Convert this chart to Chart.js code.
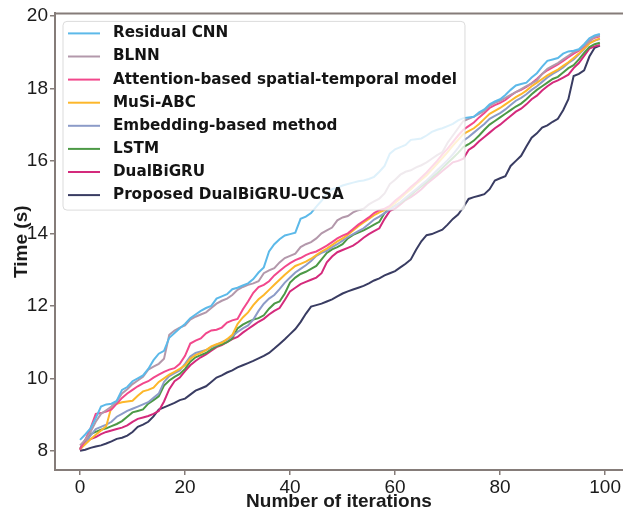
<!DOCTYPE html>
<html>
<head>
<meta charset="utf-8">
<script src="https://cdn.jsdelivr.net/npm/chart.js@4.4.0/dist/chart.umd.min.js"></script>
<style>
    html, body { margin: 0; padding: 0; background: #fff; overflow: hidden; }
    canvas { display: block; }
</style>
</head>
<body>
<canvas id="graficoTempo" width="623" height="514"></canvas>
<script>
// iteration index on the x axis
const iteracoes = Array.from({ length: 100 }, (_, i) => i);
const xTicks = [0, 20, 40, 60, 80, 100];
const yTicks = [8, 10, 12, 14, 16, 18, 20];

const nomes = [
    "Residual CNN",
    "BLNN",
    "Attention-based spatial-temporal model",
    "MuSi-ABC",
    "Embedding-based method",
    "LSTM",
    "DualBiGRU",
    "Proposed DualBiGRU-UCSA"
];

const residualCnn = [
    8.30, 8.45, 8.62, 8.90, 9.22, 9.28, 9.30, 9.38, 9.68, 9.76,
    9.92, 10.00, 10.08, 10.26, 10.50, 10.68, 10.76, 11.12, 11.25, 11.38,
    11.50, 11.66, 11.76, 11.86, 11.94, 12.00, 12.20, 12.26, 12.32, 12.46,
    12.50, 12.56, 12.62, 12.74, 12.92, 13.06, 13.50, 13.70, 13.84, 13.94,
    13.98, 14.02, 14.40, 14.46, 14.56, 14.74, 14.90, 15.10, 15.22, 15.26,
    15.32, 15.36, 15.40, 15.44, 15.46, 15.50, 15.56, 15.70, 15.86, 16.20,
    16.32, 16.38, 16.44, 16.58, 16.60, 16.62, 16.70, 16.80, 16.86, 16.90,
    16.96, 17.02, 17.12, 17.18, 17.20, 17.22, 17.34, 17.42, 17.56, 17.64,
    17.70, 17.82, 17.96, 18.08, 18.12, 18.16, 18.30, 18.42, 18.60, 18.76,
    18.80, 18.84, 18.96, 19.02, 19.04, 19.08, 19.22, 19.38, 19.46, 19.50
];

const blnn = [
    8.15, 8.30, 8.52, 8.80, 9.02, 9.12, 9.22, 9.36, 9.58, 9.70,
    9.84, 9.94, 10.04, 10.24, 10.32, 10.40, 10.54, 11.20, 11.32, 11.40,
    11.46, 11.62, 11.70, 11.76, 11.82, 11.94, 12.06, 12.14, 12.20, 12.30,
    12.44, 12.52, 12.58, 12.62, 12.68, 12.90, 12.98, 13.04, 13.20, 13.32,
    13.38, 13.44, 13.62, 13.70, 13.76, 13.86, 14.00, 14.08, 14.16, 14.36,
    14.44, 14.48, 14.58, 14.64, 14.68, 14.80, 14.88, 14.96, 15.10, 15.36,
    15.48, 15.62, 15.70, 15.74, 15.82, 15.88, 15.96, 16.06, 16.16, 16.24,
    16.50, 16.70, 16.90, 17.10, 17.16, 17.22, 17.30, 17.38, 17.52, 17.60,
    17.66, 17.74, 17.82, 17.90, 17.98, 18.06, 18.14, 18.22, 18.40, 18.54,
    18.62, 18.70, 18.80, 18.90, 19.00, 19.06, 19.18, 19.30, 19.42, 19.46
];

const atencao = [
    8.05, 8.30, 8.62, 9.02, 9.04, 9.08, 9.14, 9.30, 9.46, 9.58,
    9.68, 9.78, 9.86, 9.92, 10.02, 10.10, 10.18, 10.24, 10.28, 10.40,
    10.62, 10.96, 11.04, 11.10, 11.24, 11.32, 11.34, 11.40, 11.54, 11.60,
    11.64, 11.90, 12.12, 12.36, 12.52, 12.58, 12.68, 12.84, 12.96, 13.08,
    13.18, 13.26, 13.32, 13.40, 13.46, 13.50, 13.58, 13.66, 13.76, 13.86,
    13.94, 14.00, 14.12, 14.24, 14.34, 14.44, 14.56, 14.64, 14.68, 14.76,
    14.90, 15.02, 15.14, 15.28, 15.40, 15.54, 15.68, 15.84, 16.00, 16.18,
    16.34, 16.52, 16.70, 16.86, 16.96, 17.06, 17.20, 17.32, 17.46, 17.54,
    17.60, 17.68, 17.80, 17.90, 17.96, 18.04, 18.14, 18.26, 18.40, 18.50,
    18.58, 18.66, 18.76, 18.86, 18.96, 19.04, 19.16, 19.32, 19.40, 19.44
];

const musiAbc = [
    8.05, 8.18, 8.32, 8.44, 8.56, 8.68, 9.22, 9.30, 9.34, 9.36,
    9.38, 9.52, 9.64, 9.68, 9.74, 9.90, 10.00, 10.10, 10.18, 10.26,
    10.36, 10.54, 10.64, 10.70, 10.78, 10.88, 10.94, 10.98, 11.08, 11.20,
    11.50, 11.68, 11.82, 12.02, 12.18, 12.30, 12.44, 12.58, 12.72, 12.86,
    12.98, 13.10, 13.16, 13.22, 13.30, 13.40, 13.50, 13.58, 13.68, 13.78,
    13.86, 13.96, 14.08, 14.20, 14.30, 14.40, 14.50, 14.58, 14.64, 14.72,
    14.84, 14.96, 15.10, 15.22, 15.36, 15.48, 15.60, 15.76, 15.92, 16.08,
    16.24, 16.42, 16.58, 16.74, 16.82, 16.90, 17.02, 17.16, 17.30, 17.38,
    17.46, 17.56, 17.66, 17.76, 17.84, 17.94, 18.06, 18.16, 18.26, 18.36,
    18.44, 18.52, 18.62, 18.72, 18.84, 18.96, 19.10, 19.24, 19.32, 19.38
];

const embedding = [
    8.05, 8.20, 8.42, 8.60, 8.66, 8.72, 8.80, 8.94, 9.02, 9.10,
    9.16, 9.22, 9.28, 9.34, 9.46, 9.58, 9.90, 10.06, 10.14, 10.22,
    10.40, 10.60, 10.70, 10.74, 10.78, 10.86, 10.92, 11.00, 11.06, 11.16,
    11.28, 11.38, 11.46, 11.62, 11.86, 12.06, 12.20, 12.30, 12.46, 12.64,
    12.78, 12.92, 13.02, 13.12, 13.24, 13.38, 13.46, 13.52, 13.62, 13.70,
    13.80, 13.90, 13.98, 14.06, 14.14, 14.26, 14.38, 14.46, 14.56, 14.66,
    14.76, 14.86, 14.98, 15.10, 15.22, 15.34, 15.46, 15.60, 15.74, 15.88,
    16.02, 16.18, 16.36, 16.56, 16.66, 16.78, 16.90, 17.02, 17.16, 17.24,
    17.32, 17.42, 17.54, 17.66, 17.74, 17.84, 17.96, 18.06, 18.18, 18.30,
    18.40, 18.48, 18.58, 18.70, 18.80, 18.94, 19.08, 19.26, 19.32, 19.36
];

const lstm = [
    8.05, 8.30, 8.46, 8.52, 8.58, 8.62, 8.68, 8.74, 8.82, 8.94,
    9.06, 9.10, 9.14, 9.30, 9.40, 9.50, 9.80, 9.94, 10.04, 10.12,
    10.26, 10.46, 10.58, 10.64, 10.70, 10.80, 10.88, 10.94, 11.00, 11.10,
    11.38, 11.48, 11.56, 11.62, 11.66, 11.74, 11.92, 12.06, 12.12, 12.34,
    12.64, 12.78, 12.88, 12.94, 13.02, 13.10, 13.28, 13.46, 13.56, 13.62,
    13.70, 13.86, 13.96, 14.02, 14.08, 14.16, 14.24, 14.32, 14.56, 14.70,
    14.76, 14.84, 14.94, 15.06, 15.18, 15.30, 15.42, 15.54, 15.66, 15.80,
    15.94, 16.08, 16.22, 16.38, 16.46, 16.56, 16.70, 16.86, 17.00, 17.10,
    17.20, 17.30, 17.40, 17.50, 17.58, 17.70, 17.84, 17.96, 18.06, 18.16,
    18.26, 18.32, 18.44, 18.56, 18.64, 18.80, 18.98, 19.14, 19.22, 19.26
];

const dualBiGru = [
    8.02, 8.26, 8.32, 8.38, 8.46, 8.52, 8.56, 8.60, 8.64, 8.70,
    8.80, 8.88, 8.92, 8.96, 9.02, 9.10, 9.36, 9.70, 9.92, 10.02,
    10.20, 10.36, 10.48, 10.58, 10.66, 10.76, 10.86, 10.92, 11.00, 11.08,
    11.14, 11.26, 11.36, 11.46, 11.56, 11.64, 11.76, 11.86, 11.94, 12.16,
    12.40, 12.50, 12.60, 12.66, 12.72, 12.78, 12.90, 13.20, 13.36, 13.48,
    13.54, 13.60, 13.66, 13.76, 13.88, 13.98, 14.06, 14.14, 14.40, 14.62,
    14.68, 14.80, 14.92, 15.00, 15.10, 15.22, 15.36, 15.48, 15.60, 15.72,
    15.84, 15.96, 16.00, 16.06, 16.30, 16.40, 16.54, 16.66, 16.78, 16.90,
    17.00, 17.12, 17.24, 17.36, 17.44, 17.56, 17.70, 17.80, 17.94, 18.06,
    18.16, 18.22, 18.30, 18.38, 18.56, 18.70, 18.90, 19.10, 19.16, 19.20
];

const proposto = [
    8.00, 8.03, 8.08, 8.12, 8.15, 8.20, 8.26, 8.33, 8.36, 8.42,
    8.52, 8.66, 8.72, 8.80, 8.95, 9.14, 9.20, 9.26, 9.32, 9.40,
    9.44, 9.55, 9.66, 9.72, 9.78, 9.90, 10.02, 10.08, 10.16, 10.22,
    10.30, 10.36, 10.42, 10.48, 10.55, 10.62, 10.70, 10.82, 10.95, 11.08,
    11.22, 11.36, 11.55, 11.78, 11.98, 12.02, 12.06, 12.12, 12.18, 12.26,
    12.34, 12.40, 12.45, 12.50, 12.55, 12.62, 12.70, 12.76, 12.84, 12.90,
    12.96, 13.06, 13.16, 13.28, 13.55, 13.78, 13.95, 13.98, 14.04, 14.10,
    14.24, 14.40, 14.52, 14.72, 14.95, 15.00, 15.04, 15.08, 15.22, 15.46,
    15.52, 15.58, 15.86, 16.00, 16.14, 16.40, 16.64, 16.76, 16.92, 16.98,
    17.08, 17.16, 17.40, 17.70, 18.34, 18.40, 18.50, 18.88, 19.12, 19.18
];

const series = [residualCnn, blnn, atencao, musiAbc, embedding, lstm, dualBiGru, proposto];
const cores = ["#5cb9e9", "#b398ab", "#f2488c", "#fdb72a", "#8c9bc8", "#4c9946", "#d42a7c", "#393c62"];

const corEixo = "#857c79";
const corTexto = "#1b1b1b";
const fonteEixo = "'Liberation Sans', Arial, sans-serif";
const fonteLegenda = "'DejaVu Sans', sans-serif";

// top spine, the library only draws the axis borders
const bordaSuperior = {
    id: "bordaSuperior",
    afterDraw(chart) {
        const { ctx, chartArea } = chart;
        ctx.save();
        ctx.strokeStyle = corEixo;
        ctx.lineWidth = 2;
        ctx.beginPath();
        ctx.moveTo(chartArea.left, chartArea.top);
        ctx.lineTo(chartArea.right, chartArea.top);
        ctx.stroke();
        ctx.restore();
    }
};

// legend box drawn inside the plot, semi transparent over the lines
const legendaInterna = {
    id: "legendaInterna",
    afterDatasetsDraw(chart) {
        const { ctx, chartArea } = chart;
        const x0 = chartArea.left + 8;
        const y0 = chartArea.top + 8;
        const linha = 23.1;
        const amostraX = x0 + 5;
        const textoX = x0 + 50;

        ctx.save();
        ctx.font = "bold 15.2px " + fonteLegenda;
        let maior = 0;
        nomes.forEach(n => { maior = Math.max(maior, ctx.measureText(n).width); });
        const largura = textoX - x0 + maior + 8;
        const altura = linha * (nomes.length - 1) + 27;

        ctx.beginPath();
        ctx.roundRect(x0, y0, largura, altura, 4);
        ctx.fillStyle = "rgba(255,255,255,0.8)";
        ctx.fill();
        ctx.strokeStyle = "rgba(210,210,210,0.8)";
        ctx.lineWidth = 1;
        ctx.stroke();

        ctx.textBaseline = "middle";
        ctx.textAlign = "left";
        nomes.forEach((nome, i) => {
            const y = y0 + 12 + i * linha;
            ctx.strokeStyle = cores[i];
            ctx.lineWidth = 2;
            ctx.beginPath();
            ctx.moveTo(amostraX, y);
            ctx.lineTo(amostraX + 32, y);
            ctx.stroke();
            ctx.fillStyle = "#141414";
            ctx.fillText(nome, textoX, y);
        });
        ctx.restore();
    }
};

document.addEventListener("DOMContentLoaded", () => {
    const ctx = document.getElementById("graficoTempo").getContext("2d");

    const datasets = series.map((valores, i) => ({
        label: nomes[i],
        data: valores.map((v, k) => ({ x: iteracoes[k], y: v })),
        borderColor: cores[i],
        borderWidth: 2,
        pointRadius: 0,
        fill: false,
        tension: 0
    }));

    const eixoComum = {
        type: "linear",
        grid: {
            display: true,
            drawOnChartArea: false,
            drawTicks: true,
            tickLength: 5,
            color: corEixo,
            lineWidth: 1.5
        },
        border: { display: true, color: corEixo, width: 2 },
        ticks: {
            color: corTexto,
            font: { family: fonteEixo, size: 19 },
            autoSkip: false,
            maxRotation: 0
        },
        title: {
            display: true,
            color: corTexto,
            font: { family: fonteEixo, size: 19, weight: "bold", lineHeight: 1.2 }
        }
    };

    new Chart(ctx, {
        type: "line",
        data: { datasets },
        plugins: [legendaInterna, bordaSuperior],
        options: {
            responsive: false,
            animation: false,
            devicePixelRatio: 1,
            layout: { padding: { top: 10, right: 0, bottom: 0, left: 0 }, autoPadding: false },
            plugins: { legend: { display: false }, tooltip: { enabled: false } },
            scales: {
                x: {
                    ...eixoComum,
                    min: -4.76,
                    max: 103.4,
                    afterBuildTicks: scale => { scale.ticks = xTicks.map(v => ({ value: v })); },
                    afterFit: scale => { scale.height = 44; },
                    ticks: { ...eixoComum.ticks, padding: 1 },
                    title: { ...eixoComum.title, text: "Number of iterations", padding: { top: 0, bottom: 1 } }
                },
                y: {
                    ...eixoComum,
                    min: 7.47,
                    max: 20.07,
                    afterBuildTicks: scale => { scale.ticks = yTicks.map(v => ({ value: v })); },
                    afterFit: scale => { scale.width = 55; },
                    ticks: { ...eixoComum.ticks, padding: 2 },
                    title: { ...eixoComum.title, text: "Time (s)", padding: { top: 10, bottom: 0 } }
                }
            }
        }
    });
});
</script>
</body>
</html>
